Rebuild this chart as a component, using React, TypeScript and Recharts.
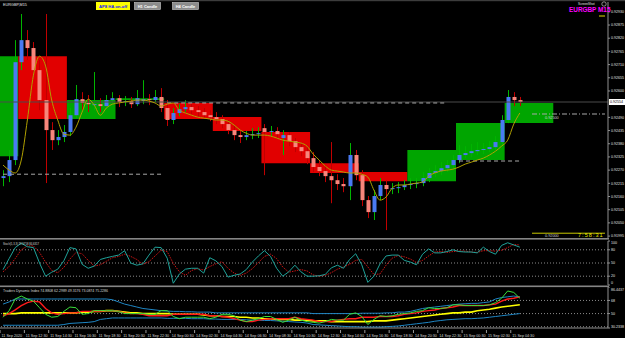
import React from 'react';
import { ComposedChart, LineChart, Bar, Line, XAxis, YAxis, ReferenceArea, ReferenceLine } from 'recharts';

// EURGBP M15, one candle per 30 min slot
const opens = [
  0.92237, 0.92245, 0.92312, 0.9272, 0.92812, 0.92779, 0.92687, 0.92562, 0.92437, 0.92395,
  0.92408, 0.92429, 0.92499, 0.92566, 0.9255, 0.92541, 0.92545, 0.92537, 0.92562, 0.9257,
  0.92554, 0.92558, 0.92545, 0.92558, 0.92566, 0.92562, 0.92575, 0.92529, 0.92479, 0.92508,
  0.92524, 0.92533, 0.9252, 0.92512, 0.92499, 0.92491, 0.92483, 0.92462, 0.92437, 0.92416,
  0.92408, 0.92416, 0.9242, 0.92445, 0.92429, 0.92433, 0.92404, 0.92416, 0.92391, 0.92366,
  0.92349, 0.9232, 0.92283, 0.92266, 0.92245, 0.92228, 0.92212, 0.92203, 0.92333, 0.92249,
  0.92145, 0.92095, 0.92162, 0.92208, 0.92191, 0.92195, 0.92199, 0.92208, 0.92212, 0.92216,
  0.92237, 0.92258, 0.92266, 0.92278, 0.92291, 0.92312, 0.92333, 0.92341, 0.92349, 0.92354,
  0.92358, 0.92366, 0.92387, 0.92479, 0.92575, 0.92562,
];
const highs = [
  0.9227, 0.92354, 0.92812, 0.92921, 0.92854, 0.92804, 0.92729, 0.92921, 0.9247, 0.92437,
  0.92458, 0.92529, 0.92625, 0.92595, 0.92583, 0.92679, 0.9257, 0.92583, 0.92595, 0.92583,
  0.92579, 0.92575, 0.92604, 0.92645, 0.92587, 0.92604, 0.92612, 0.92562, 0.92529, 0.92545,
  0.92562, 0.9255, 0.92537, 0.92529, 0.9252, 0.92512, 0.92499, 0.92479, 0.92454, 0.92437,
  0.92433, 0.92445, 0.92449, 0.92462, 0.92454, 0.92449, 0.92437, 0.92429, 0.92404, 0.92383,
  0.9237, 0.92345, 0.92312, 0.92291, 0.92387, 0.92253, 0.92237, 0.92383, 0.92354, 0.9227,
  0.92162, 0.92187, 0.92237, 0.92228, 0.92216, 0.9222, 0.92228, 0.92237, 0.92237, 0.92262,
  0.92278, 0.92291, 0.92303, 0.92312, 0.92333, 0.92374, 0.9237, 0.92379, 0.92387, 0.92383,
  0.92391, 0.92412, 0.92499, 0.92604, 0.92595, 0.92575,
];
const lows = [
  0.92203, 0.9222, 0.92291, 0.92687, 0.92729, 0.92654, 0.9252, 0.92216, 0.92354, 0.92374,
  0.92387, 0.92412, 0.92487, 0.9252, 0.92512, 0.9252, 0.92512, 0.92529, 0.92545, 0.92533,
  0.92537, 0.92529, 0.92537, 0.92545, 0.92541, 0.92554, 0.92512, 0.92454, 0.92462, 0.92495,
  0.92512, 0.92504, 0.92491, 0.92487, 0.92474, 0.92462, 0.92445, 0.9242, 0.92395, 0.92383,
  0.92395, 0.92399, 0.92404, 0.92249, 0.92412, 0.92399, 0.92333, 0.9237, 0.92345, 0.92328,
  0.92295, 0.92262, 0.92245, 0.9222, 0.92132, 0.92187, 0.92178, 0.92145, 0.92228, 0.9212,
  0.9207, 0.92062, 0.92145, 0.9202, 0.9217, 0.92174, 0.92187, 0.92191, 0.92195, 0.92203,
  0.9222, 0.92241, 0.92249, 0.92262, 0.92278, 0.92299, 0.9232, 0.92324, 0.92333, 0.92337,
  0.92345, 0.92354, 0.92374, 0.92466, 0.92537, 0.92537,
];
const closes = [
  0.92245, 0.92312, 0.9272, 0.92812, 0.92779, 0.92687, 0.92562, 0.92437, 0.92395, 0.92408,
  0.92429, 0.92499, 0.92566, 0.9255, 0.92545, 0.92545, 0.92537, 0.92562, 0.9257, 0.92554,
  0.92558, 0.92545, 0.9257, 0.92566, 0.92562, 0.92575, 0.92529, 0.92479, 0.92508, 0.92524,
  0.92533, 0.9252, 0.92512, 0.92499, 0.92491, 0.92483, 0.92462, 0.92437, 0.92416, 0.92408,
  0.92416, 0.9242, 0.92424, 0.92429, 0.92433, 0.9242, 0.92416, 0.92391, 0.92366, 0.92349,
  0.9232, 0.92283, 0.92266, 0.92245, 0.92228, 0.92212, 0.92203, 0.92333, 0.92249, 0.92145,
  0.92095, 0.92162, 0.92208, 0.92191, 0.92195, 0.92199, 0.92208, 0.92212, 0.92216, 0.92237,
  0.92258, 0.92266, 0.92278, 0.92291, 0.92312, 0.92333, 0.92341, 0.92349, 0.92354, 0.92358,
  0.92366, 0.92387, 0.92479, 0.92575, 0.92562, 0.92554,
];
const maLine = [
  0.92291, 0.9227, 0.92258, 0.92312, 0.92479, 0.92666, 0.92745, 0.92704, 0.92562, 0.92479,
  0.9242, 0.92416, 0.92449, 0.92512, 0.92566, 0.92541, 0.92499, 0.92529, 0.92545, 0.9255,
  0.92554, 0.92558, 0.92562, 0.92562, 0.92558, 0.9255, 0.92537, 0.92545, 0.9255, 0.9252,
  0.92508, 0.92499, 0.92491, 0.92487, 0.92483, 0.92479, 0.92479, 0.92474, 0.92458, 0.92437,
  0.92424, 0.92416, 0.92416, 0.92416, 0.92412, 0.92404, 0.92395, 0.92391, 0.92387, 0.92383,
  0.9237, 0.92337, 0.92312, 0.92287, 0.9227, 0.92266, 0.92262, 0.92258, 0.92258, 0.92253,
  0.92241, 0.92187, 0.92145, 0.92158, 0.92195, 0.92208, 0.92208, 0.92212, 0.92216, 0.9222,
  0.92245, 0.92258, 0.92266, 0.9227, 0.92274, 0.92283, 0.92295, 0.92303, 0.92312, 0.9232,
  0.92333, 0.92349, 0.9237, 0.92395, 0.92462, 0.92508,
];

// higher timeframe candles drawn as boxes (slot from..to)
const h4Boxes = [
  { from: 0, to: 2, open: 0.92328, close: 0.92745 },
  { from: 3, to: 10, open: 0.92745, close: 0.92483 },
  { from: 11, to: 18, open: 0.92483, close: 0.92562 },
  { from: 19, to: 26, open: 0.92562, close: 0.9257 },
  { from: 27, to: 34, open: 0.9255, close: 0.92483 },
  { from: 35, to: 42, open: 0.92491, close: 0.92433 },
  { from: 43, to: 50, open: 0.92429, close: 0.92299 },
  { from: 51, to: 58, open: 0.92299, close: 0.92258 },
  { from: 59, to: 66, open: 0.92262, close: 0.92224 },
  { from: 67, to: 74, open: 0.92224, close: 0.92354 },
  { from: 75, to: 82, open: 0.92312, close: 0.92466 },
  { from: 83, to: 90, open: 0.92466, close: 0.9255 },
];

const levelLines = [
  { from: 0, to: 26, price: 0.92253, color: '#a8a8a8', dash: '4 3' },
  { from: 27, to: 73, price: 0.9255, color: '#a8a8a8', dash: '4 3' },
  { from: 75, to: 85, price: 0.92308, color: '#a8a8a8', dash: '4 3' },
  { from: 87, to: 99, price: 0.92504, color: '#a8a8a8', dash: '5 2 1 2' },
  { from: 87, to: 99, price: 0.92007, color: '#c8c800', dash: '' },
];

const priceTicks = [
  0.91995, 0.9205, 0.92105, 0.9216, 0.92215, 0.9227, 0.92325, 0.9238, 0.92435, 0.9249,
  0.926, 0.92655, 0.9271, 0.92765, 0.9282, 0.92875, 0.9293,
];

const stochMain = [
  35, 60, 85, 95, 87, 85, 50, 20, 29, 36,
  55, 85, 82, 47, 38, 43, 58, 62, 65, 68,
  78, 50, 45, 48, 68, 86, 85, 61, 4, 25,
  36, 38, 38, 27, 62, 55, 42, 18, 22, 25,
  35, 52, 66, 78, 65, 38, 20, 30, 45, 30,
  20, 20, 21, 24, 39, 45, 38, 58, 71, 46,
  6, 20, 48, 66, 68, 68, 56, 52, 46, 70,
  82, 73, 73, 76, 80, 76, 75, 75, 73, 86,
  76, 70, 90, 96, 91, 86,
];
const stochSignal = [
  30, 42, 60, 80, 89, 89, 74, 52, 33, 28,
  40, 59, 74, 71, 56, 43, 46, 54, 62, 65,
  70, 65, 58, 47, 53, 66, 79, 76, 49, 30,
  22, 33, 37, 34, 42, 48, 53, 38, 27, 22,
  27, 37, 51, 65, 70, 60, 41, 29, 32, 35,
  32, 23, 20, 22, 28, 36, 41, 47, 56, 58,
  41, 24, 25, 45, 61, 67, 64, 59, 51, 56,
  66, 75, 76, 74, 76, 77, 77, 75, 74, 78,
  78, 77, 79, 85, 92, 91,
];

const tdiRsi = [
  45, 54, 70, 74, 70, 67, 58, 49, 45, 46,
  53, 59, 58, 49, 50, 54, 54, 54, 54, 53,
  50, 50, 50, 50, 49, 49, 54, 54, 46, 43,
  45, 45, 45, 45, 43, 45, 49, 49, 47, 41,
  39, 41, 43, 46, 46, 42, 38, 41, 45, 41,
  39, 38, 37, 39, 42, 41, 41, 49, 51, 46,
  35, 42, 47, 46, 47, 49, 50, 51, 53, 54,
  58, 57, 57, 58, 62, 62, 61, 61, 61, 61,
  62, 65, 71, 81, 79, 71,
];
const tdiSignal = [
  47, 50, 55, 61, 65, 67, 66, 57, 51, 49,
  50, 51, 51, 53, 53, 53, 53, 54, 54, 53,
  51, 50, 50, 49, 47, 47, 47, 47, 49, 49,
  49, 49, 49, 49, 47, 47, 46, 45, 43, 41,
  39, 39, 41, 42, 43, 43, 43, 43, 45, 43,
  42, 41, 39, 39, 39, 41, 42, 43, 43, 45,
  45, 45, 46, 46, 46, 47, 49, 50, 51, 53,
  54, 55, 57, 58, 59, 61, 61, 61, 61, 61,
  62, 63, 67, 70, 71, 73,
];
const tdiBase = [
  50, 50, 50, 51, 51, 51, 51, 51, 51, 51,
  51, 51, 51, 52, 52, 53, 53, 54, 54, 53,
  52, 51, 51, 50, 50, 50, 50, 50, 49, 49,
  49, 49, 49, 48, 47, 47, 46, 46, 46, 45,
  45, 44, 44, 43, 43, 42, 42, 42, 41, 41,
  41, 40, 40, 40, 39, 39, 39, 39, 39, 39,
  39, 40, 40, 40, 41, 42, 43, 44, 45, 46,
  47, 48, 49, 50, 51, 51, 52, 52, 54, 55,
  56, 57.5, 59, 60, 61, 62,
];
const tdiUpper = [
  63, 66, 70, 70, 70, 70, 70, 70, 70, 70,
  70, 70, 70, 70, 70, 70, 70, 70, 69, 66,
  63, 61, 59, 57, 56, 55, 54, 53.5, 53, 53,
  52.5, 52.5, 52, 52, 52, 51, 51, 51, 51, 51,
  51, 51, 51, 51, 51, 51, 51, 51, 51, 51,
  51, 50, 50, 50, 50, 50, 50, 50, 50, 50.5,
  50.5, 50.5, 50.5, 51, 51, 52, 52, 53, 55, 57,
  58, 59, 60, 61, 62, 63, 63.5, 64, 64, 65,
  66, 70, 72, 73, 74, 73,
];
const tdiLower = [
  34, 34, 34, 34, 34, 34, 34, 34, 34, 34,
  35, 36.5, 37, 37.5, 38, 39, 42, 43, 44, 44,
  44, 44, 44, 44, 44, 44, 44, 43.5, 43.5, 43.5,
  43.5, 43, 43, 43, 42.5, 42.5, 42, 42, 42, 42,
  41.5, 41, 41, 40.5, 40.5, 40, 39.5, 39, 38.5, 38,
  37, 35, 34.5, 34, 33.5, 33, 32.5, 32, 32, 31.5,
  31.5, 31.5, 31.5, 32, 32.5, 33, 34, 35, 36, 37,
  38, 39.5, 40.5, 41.5, 42, 42.5, 43, 43, 43.5, 44,
  45, 46, 47, 48, 49, 50,
];

const timeLabels = [
  '11 Sep 2020', '11 Sep 12:30', '11 Sep 14:30', '11 Sep 16:30', '11 Sep 18:30', '11 Sep 20:30',
  '11 Sep 22:30', '14 Sep 00:30', '14 Sep 02:30', '14 Sep 04:30', '14 Sep 06:30', '14 Sep 08:30',
  '14 Sep 10:30', '14 Sep 12:30', '14 Sep 14:30', '14 Sep 16:30', '14 Sep 18:30', '14 Sep 20:30',
  '14 Sep 22:30', '15 Sep 00:30', '15 Sep 02:30', '15 Sep 04:30',
];

const SLOTS = 100;
const FONT = 'Liberation Sans, Arial, sans-serif';
const lastClose = closes[closes.length - 1];

const mainData = Array.from({ length: SLOTS }, (_, i) => ({
  i, o: opens[i], h: highs[i], l: lows[i], c: closes[i], ma: maLine[i],
}));
const stochData = Array.from({ length: SLOTS }, (_, i) => ({ i, k: stochMain[i], d: stochSignal[i] }));
const tdiData = Array.from({ length: SLOTS }, (_, i) => ({
  i, rsi: tdiRsi[i], sig: tdiSignal[i], base: tdiBase[i], up: tdiUpper[i], lo: tdiLower[i],
}));
const timeTicks = timeLabels.map((_, k) => k * 4);

const Candle = (props: any) => {
  const { x, y, width, height, payload } = props;
  if (!payload || payload.o == null) return null;
  const { o, h, l, c } = payload;
  const top = Math.min(y, y + height);
  const span = Math.abs(height);
  const k = h > l ? span / (h - l) : 0;
  const py = (v: number) => top + (h - v) * k;
  const up = c >= o;
  const cx = Math.round(x + width / 2) + 0.5;
  const b1 = py(Math.max(o, c));
  const b2 = py(Math.min(o, c));
  return (
    <g>
      <line x1={cx} x2={cx} y1={top} y2={top + span} stroke={up ? '#00b400' : '#c00000'} strokeWidth={1} />
      <rect x={cx - 2} y={b1} width={4} height={Math.max(1, b2 - b1)} fill={up ? '#4a7af2' : '#f7867c'} />
    </g>
  );
};

const PriceTag = (props: any) => {
  const { viewBox } = props;
  if (!viewBox) return null;
  const { x, y, width } = viewBox;
  return (
    <g>
      <rect x={x + width + 1} y={y - 3} width={16} height={6} fill="#ffffff" />
      <text x={x + width + 2} y={y + 1.4} fontSize={3.6} fontFamily={FONT} fill="#000">
        {lastClose.toFixed(5)}
      </text>
    </g>
  );
};

const TimeTick = (props: any) => {
  const { x, y, payload } = props;
  const bx = x - 3;
  return (
    <g>
      <line x1={bx} x2={bx} y1={y} y2={y + 3} stroke="#9a9a9a" />
      <text x={bx + 1.5} y={y + 7} fontSize={3.7} fontFamily={FONT} fill="#d8d8d8">
        {timeLabels[Math.round(payload.value / 4)]}
      </text>
    </g>
  );
};

// y-axis label kept inside its panel (MT4 pins the end labels inside)
const makeYTick = (lo: number, hi: number, fmt: (v: number) => string) => (p: any) => {
  const ty = Math.min(Math.max(p.y, lo), hi);
  return (
    <text x={p.x} y={ty} dy="0.35em" fontSize={3.6} fontFamily={FONT} fill="#e0e0e0">
      {fmt(p.payload.value)}
    </text>
  );
};

const axisTick = { fill: '#e0e0e0', fontSize: 3.6, fontFamily: FONT };

export default function App() {
  return (
    <div style={{ position: 'absolute', left: 0, top: 0, width: 625, height: 338, background: '#000', overflow: 'hidden' }}>
      <div style={{ position: 'absolute', left: 0, top: 0 }}>
        <ComposedChart width={625} height={240} data={mainData} margin={{ top: 2, right: 0, bottom: 2, left: 0 }} barCategoryGap={0}>
          <XAxis dataKey="i" type="category" hide />
          <YAxis
            orientation="right"
            width={17}
            domain={[0.91987, 0.92971]}
            allowDataOverflow
            ticks={priceTicks}
            interval={0}
            tickFormatter={(v: number) => v.toFixed(5)}
            tick={axisTick}
            tickSize={2}
            tickMargin={1}
            tickLine={{ stroke: '#909090' }}
            axisLine={{ stroke: '#909090' }}
          />
          {h4Boxes.map((b, n) => (
            <ReferenceArea
              key={'box' + n}
              x1={b.from}
              x2={b.to}
              y1={Math.min(b.open, b.close)}
              y2={Math.max(b.open, b.close)}
              fill={b.close >= b.open ? '#00a500' : '#e10000'}
              fillOpacity={1}
              stroke="none"
              zIndex={-10}
            />
          ))}
          <ReferenceLine y={lastClose} stroke="#4a4a4a" strokeWidth={1} label={(p: any) => <PriceTag {...p} />} />
          {levelLines.map((ln, n) => (
            <ReferenceLine
              key={'lvl' + n}
              segment={[{ x: ln.from, y: ln.price }, { x: ln.to, y: ln.price }]}
              stroke={ln.color}
              strokeDasharray={ln.dash || undefined}
              strokeWidth={1}
            />
          ))}
          <Bar dataKey={(d: any) => (d.h == null ? null : [d.l, d.h])} shape={Candle} isAnimationActive={false} />
          <Line dataKey="ma" type="monotone" stroke="#b0a000" strokeWidth={1} dot={false} isAnimationActive={false} />
        </ComposedChart>
      </div>

      <div style={{ position: 'absolute', left: 0, top: 240 }}>
        <LineChart width={625} height={46} data={stochData} margin={{ top: 1, right: 0, bottom: 1, left: 0 }}>
          <XAxis dataKey="i" type="number" domain={[-0.5, 99.5]} allowDataOverflow hide />
          <YAxis
            orientation="right"
            width={17}
            domain={[0, 100]}
            ticks={[0, 20, 50, 80, 100]}
            interval={0}
            tick={makeYTick(3, 42.5, (v) => String(v))}
            tickSize={2}
            tickMargin={1}
            tickLine={{ stroke: '#909090' }}
            axisLine={{ stroke: '#909090' }}
          />
          {[20, 50, 80].map((v) => (
            <ReferenceLine key={'s' + v} y={v} stroke="#8a8a8a" strokeDasharray="1 2" />
          ))}
          <Line dataKey="d" stroke="#c81414" strokeWidth={1} strokeDasharray="1.5 1" dot={false} isAnimationActive={false} />
          <Line dataKey="k" stroke="#1fa39a" strokeWidth={1} dot={false} isAnimationActive={false} />
        </LineChart>
      </div>

      <div style={{ position: 'absolute', left: 0, top: 287 }}>
        <LineChart width={625} height={51} data={tdiData} margin={{ top: 0, right: 0, bottom: 0, left: 0 }}>
          <XAxis
            dataKey="i"
            type="number"
            domain={[-0.5, 99.5]}
            allowDataOverflow
            ticks={timeTicks}
            interval={0}
            height={10}
            tick={<TimeTick />}
            tickLine={false}
            tickSize={0}
            axisLine={{ stroke: '#909090' }}
          />
          <YAxis
            orientation="right"
            width={17}
            domain={[30.2338, 86.4437]}
            allowDataOverflow
            ticks={[30.2338, 50, 68, 86.4437]}
            interval={0}
            tick={makeYTick(2.5, 39.5, (v) => (Number.isInteger(v) ? String(v) : v.toFixed(4)))}
            tickSize={2}
            tickMargin={1}
            tickLine={{ stroke: '#909090' }}
            axisLine={{ stroke: '#909090' }}
          />
          {[32, 50, 68].map((v) => (
            <ReferenceLine key={'t' + v} y={v} stroke="#8a8a8a" strokeDasharray="1 2" />
          ))}
          <Line dataKey="up" stroke="#1f86c4" strokeWidth={1} dot={false} isAnimationActive={false} />
          <Line dataKey="lo" stroke="#1f86c4" strokeWidth={1} dot={false} isAnimationActive={false} />
          <Line dataKey="base" stroke="#ffff00" strokeWidth={1.6} dot={false} isAnimationActive={false} />
          <Line dataKey="sig" stroke="#ff1a1a" strokeWidth={1.4} dot={false} isAnimationActive={false} />
          <Line dataKey="rsi" stroke="#3ade3a" strokeWidth={1} dot={false} isAnimationActive={false} />
        </LineChart>
      </div>

      <svg width={625} height={338} style={{ position: 'absolute', left: 0, top: 0, pointerEvents: 'none' }} fontFamily={FONT}>
        <rect x={0} y={0} width={625} height={1.2} fill="#3c3c3c" />
        <rect x={0} y={238} width={609} height={1.6} fill="#858585" />
        <rect x={0} y={285.5} width={609} height={1.6} fill="#858585" />

        <text x={3} y={5.5} fontSize={3.8} fill="#e8e8e8">EURGBP,M15</text>

        <rect x={96} y={2} width={34} height={8} fill="#ffff00" />
        <text x={113} y={7.6} fontSize={4.2} fontWeight="bold" fill="#1414ff" textAnchor="middle">AP8 HA on-off</text>
        <rect x={134.5} y={2.5} width={26} height={7} fill="#8c8c8c" stroke="#cfcfcf" strokeWidth={0.6} />
        <text x={147.5} y={7.6} fontSize={4} fontWeight="bold" fill="#ffffff" textAnchor="middle">H1 Candle</text>
        <rect x={172.5} y={2.5} width={26} height={7} fill="#8c8c8c" stroke="#cfcfcf" strokeWidth={0.6} />
        <text x={185.5} y={7.6} fontSize={4} fontWeight="bold" fill="#ffffff" textAnchor="middle">H4 Candle</text>

        <text x={578} y={5} fontSize={3.2} fill="#e0e0e0">ScreenShot</text>
        <circle cx={604} cy={4} r={2.2} fill="none" stroke="#e0e0e0" strokeWidth={0.6} />
        <text x={569} y={11.5} fontSize={6.4} fontWeight="bold" fill="#ff00ff">EURGBP M15</text>
        <rect x={599} y={15.5} width={6} height={1} fill="#e0e000" />

        <text x={545} y={119} fontSize={3.8} fill="#d0d0d0">0.92500</text>
        <text x={545} y={237} fontSize={3.8} fill="#d0d0d0">0.92000</text>
        <text x={578} y={237} fontSize={5.6} fill="#e8e800" letterSpacing={1}>7:58:31</text>

        <text x={3} y={244.5} fontSize={3.2} fill="#d8d8d8" textLength={36} lengthAdjust="spacingAndGlyphs">Stoch(5,3,3) 79.9758 84.6317</text>
        <text x={3} y={291.5} fontSize={3.3} fill="#d8d8d8" textLength={105} lengthAdjust="spacingAndGlyphs">Traders Dynamic Index 74.8808 62.2989 49.3176 73.0874 75.2286</text>
      </svg>
    </div>
  );
}
